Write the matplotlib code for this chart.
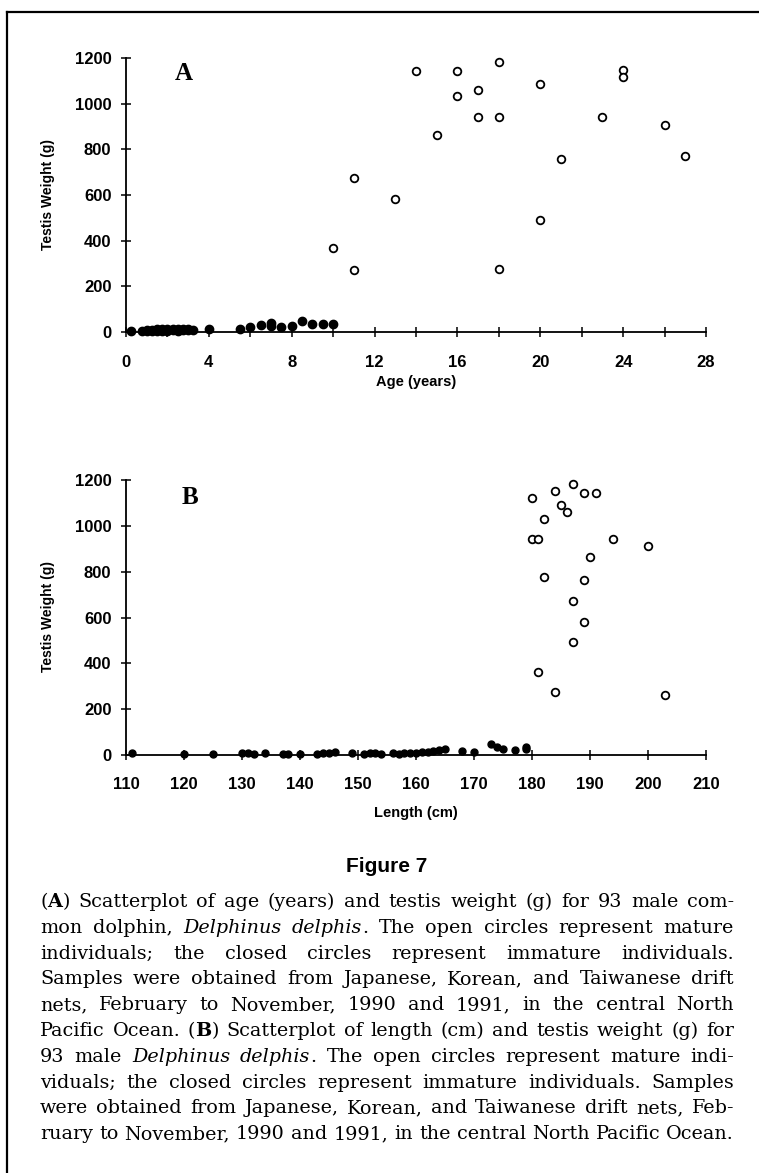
import re
import matplotlib
matplotlib.use('Agg')
import matplotlib.pyplot as plt
from matplotlib.lines import Line2D
from matplotlib.ticker import MultipleLocator

W, H = 759, 1173

# Panel A: age (years) vs testis weight (g)
age_mature = [10, 11, 11, 13, 14, 15, 16, 16, 17, 17, 18, 18, 18, 20, 20, 21, 23, 24, 24, 26, 27]
wt_age_mature = [368, 676, 272, 582, 1143, 863, 1143, 1032, 1061, 942, 1181, 942, 275, 1088, 489,
                 756, 940, 1148, 1118, 907, 772]
age_immature = [0.25, 0.75, 1, 1, 1.25, 1.25, 1.5, 1.5, 1.5, 1.75, 1.75, 2, 2, 2, 2.25, 2.25,
                2.5, 2.5, 2.5, 2.75, 2.75, 3, 3, 3.25, 4, 5.5, 6, 6.5, 7, 7, 7.5, 8, 8.5, 9, 9.5, 10]
wt_age_immature = [4, 3, 5, 8, 6, 10, 4, 8, 12, 6, 11, 5, 9, 13, 7, 12, 6, 10, 14, 8, 12, 7, 11, 9,
                   14, 15, 22, 32, 40, 25, 22, 28, 48, 36, 36, 36]

# Panel B: length (cm) vs testis weight (g)
len_mature = [180, 184, 187, 189, 191, 185, 186, 182, 180, 181, 194, 200, 190, 182, 189, 187,
              189, 187, 181, 184, 203]
wt_len_mature = [1120, 1150, 1182, 1143, 1144, 1091, 1060, 1031, 942, 942, 942, 912, 865, 778,
                 764, 672, 582, 492, 362, 275, 263]
len_immature = [111, 120, 125, 130, 131, 132, 134, 137, 138, 140, 143, 144, 145, 146, 149, 151,
                152, 153, 154, 156, 157, 158, 159, 160, 161, 162, 163, 164, 165, 168, 170, 173,
                174, 175, 177, 179, 179]
wt_len_immature = [8, 5, 6, 7, 7, 6, 8, 6, 5, 4, 6, 8, 10, 12, 9, 6, 7, 7, 6, 8, 5, 8, 9, 10, 12,
                   14, 18, 22, 28, 18, 12, 48, 35, 28, 20, 28, 36]

weight_ticks = [0, 200, 400, 600, 800, 1000, 1200]
age_ticks = [0, 4, 8, 12, 16, 20, 24, 28]
len_ticks = [110, 120, 130, 140, 150, 160, 170, 180, 190, 200, 210]

caption_lines = [
    "({b:A}) Scatterplot of age (years) and testis weight (g) for 93 male com-",
    "mon dolphin, {i:Delphinus} {i:delphis}. The open circles represent mature",
    "individuals; the closed circles represent immature individuals.",
    "Samples were obtained from Japanese, Korean, and Taiwanese drift",
    "nets, February to November, 1990 and 1991, in the central North",
    "Pacific Ocean. ({b:B}) Scatterplot of length (cm) and testis weight (g) for",
    "93 male {i:Delphinus} {i:delphis}. The open circles represent mature indi-",
    "viduals; the closed circles represent immature individuals. Samples",
    "were obtained from Japanese, Korean, and Taiwanese drift nets, Feb-",
    "ruary to November, 1990 and 1991, in the central North Pacific Ocean.",
]

plt.rcParams['font.family'] = 'Liberation Sans'


def fx(x):
    return x / W


def fy(y):
    return 1 - y / H


def style(ax, xpad):
    for s in ['top', 'right']:
        ax.spines[s].set_visible(False)
    for s in ['left', 'bottom']:
        ax.spines[s].set_linewidth(1.3)
    ax.tick_params(which='both', direction='inout', length=7, width=1.1, labelsize=12)
    ax.tick_params(axis='x', pad=xpad)
    ax.tick_params(axis='y', pad=7)
    ax.set_ylim(0, 1200)
    ax.set_yticks(weight_ticks)
    for lab in ax.get_xticklabels() + ax.get_yticklabels():
        lab.set_fontweight('bold')


def scatter(ax, xm, ym, xi, yi, ms_fill):
    ax.plot(xm, ym, 'o', ms=5.5, mfc='white', mec='black', mew=1.3, ls='none',
            clip_on=False, zorder=3)
    ax.plot(xi, yi, 'o', ms=ms_fill, mfc='black', mec='black', ls='none',
            clip_on=False, zorder=3)


fig = plt.figure(figsize=(W / 100, H / 100), dpi=100)

# panel A
axA = fig.add_axes([fx(126), fy(332), 580 / W, 274 / H])
scatter(axA, age_mature, wt_age_mature, age_immature, wt_age_immature, 6)
axA.set_xlim(0, 28)
axA.set_xticks(age_ticks)
axA.xaxis.set_minor_locator(MultipleLocator(2))
style(axA, 13)

# panel B
axB = fig.add_axes([fx(126), fy(755), 580 / W, 275 / H])
scatter(axB, len_mature, wt_len_mature, len_immature, wt_len_immature, 5)
axB.set_xlim(110, 210)
axB.set_xticks(len_ticks)
style(axB, 12)

# axis titles and panel letters
for yc in [195, 617]:
    fig.text(fx(48), fy(yc), 'Testis Weight (g)', rotation=90, ha='center', va='center',
             fontsize=10, fontweight='bold')
fig.text(fx(416), fy(382), 'Age (years)', ha='center', va='center', fontsize=10.5,
         fontweight='bold')
fig.text(fx(416), fy(813), 'Length (cm)', ha='center', va='center', fontsize=10.5,
         fontweight='bold')
fig.text(fx(184), fy(74), 'A', ha='center', va='center', fontsize=18, fontweight='bold',
         family='Liberation Serif')
fig.text(fx(190), fy(498), 'B', ha='center', va='center', fontsize=18, fontweight='bold',
         family='Liberation Serif')

# figure title
fig.text(fx(387), fy(867), 'Figure 7', ha='center', va='center', fontsize=15,
         fontweight='bold')

# justified caption
renderer = fig.canvas.get_renderer()
left, right = 40, 734


def parts(word):
    out = []
    for m in re.finditer(r'\{(b|i):([^}]*)\}|([^{]+)', word):
        if m.group(1):
            out.append((m.group(2), m.group(1)))
        else:
            out.append((m.group(3), 'n'))
    return out


def make_line(line, base, size):
    words = []
    for w in line.split(' '):
        segs = []
        for txt, st in parts(w):
            t = fig.text(0, fy(base), txt, va='baseline', ha='left', fontsize=size,
                         family='DejaVu Serif',
                         fontweight='bold' if st == 'b' else 'normal',
                         fontstyle='italic' if st == 'i' else 'normal')
            segs.append((t, t.get_window_extent(renderer).width))
        words.append(segs)
    return words


def space_width(size):
    a = fig.text(0, 0, 'n n', fontsize=size, family='DejaVu Serif')
    b = fig.text(0, 0, 'nn', fontsize=size, family='DejaVu Serif')
    sw = a.get_window_extent(renderer).width - b.get_window_extent(renderer).width
    a.remove()
    b.remove()
    return sw


# pick the size so the widest line fits with ordinary spaces
probe = 12
sp = space_width(probe)
widest = 0
for line in caption_lines:
    words = make_line(line, 0, probe)
    nat = sum(sum(s[1] for s in segs) for segs in words) + sp * (len(words) - 1)
    widest = max(widest, nat)
    for segs in words:
        for t, _ in segs:
            t.remove()
cap_size = probe * (right - left) / widest * 0.995

for i, line in enumerate(caption_lines):
    base = 907 + i * 25.8
    words = make_line(line, base, cap_size)
    widths = [sum(s[1] for s in segs) for segs in words]
    gap = (right - left - sum(widths)) / max(len(words) - 1, 1)
    x = left
    for segs, wd in zip(words, widths):
        xx = x
        for t, sw in segs:
            t.set_x(fx(xx))
            xx += sw
        x += wd + gap

# page frame
fig.add_artist(Line2D([fx(7), 1], [fy(12), fy(12)], color='black', lw=1.6))
fig.add_artist(Line2D([fx(7), fx(7)], [fy(12), 0], color='black', lw=1.6))

fig.savefig('out.png', dpi=100)
